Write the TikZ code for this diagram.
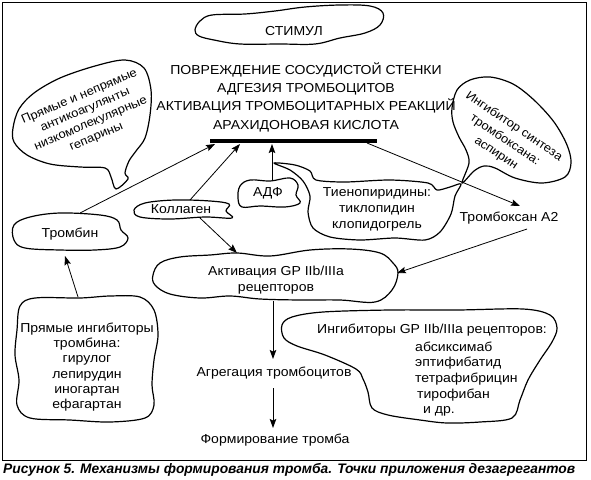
\documentclass[tikz,border=0pt]{standalone}
\usepackage{fontspec}
\setmainfont{Liberation Sans}[FakeStretch=1.08]
\newfontfamily\capfont{Liberation Sans}
\usetikzlibrary{arrows.meta}

\tikzset{
  blob/.style={line width=1.2pt, line join=round},
  arr/.style={line width=0.8pt, -{Stealth[length=9pt,width=6.5pt,inset=1.5pt]}},
  txt/.style={font=\fontsize{13}{15.5}\selectfont, align=center, inner sep=0pt},
}

\begin{document}
\begin{tikzpicture}[x=1pt,y=-1pt]
        \useasboundingbox (0,0) rectangle (591,479);
        % рамка
        \draw[line width=1pt] (2,2) rectangle (586,460);
        % СТИМУЛ
        \draw[blob] plot[smooth cycle, tension=0.6] coordinates {(195,30) (200,21) (212,15) (245,14) (275,11) (305,7) (340,5) (370,6) (383,13) (380,25) (365,33) (340,38) (315,44) (280,44) (240,44) (214,40) (199,36)};
        \node[txt] (stimul) at (294,31) {СТИМУЛ};
        % повреждение стенки
        \node[txt, font=\fontsize{13}{18.3}\selectfont] (injury) at (306,97) {ПОВРЕЖДЕНИЕ СОСУДИСТОЙ СТЕНКИ\\АДГЕЗИЯ ТРОМБОЦИТОВ\\АКТИВАЦИЯ ТРОМБОЦИТАРНЫХ РЕАКЦИЙ\\АРАХИДОНОВАЯ КИСЛОТА};
        \coordinate (barL) at (210,141);
        \coordinate (barR) at (377,141);
        \draw[line width=4.5pt] (barL) -- (barR);
        \coordinate (b1) at (215,144);
        \coordinate (b2) at (240,144);
        \coordinate (b3) at (272,144);
        \coordinate (b4) at (367,143);
        % антикоагулянты
        \draw[blob] plot[smooth cycle, tension=0.55] coordinates {(13,128) (19,109) (34,93) (60,78) (95,66) (125,60) (144,68) (151,90) (150,115) (145,138) (136,151) (129,161) (125,173) (128,179) (116,189) (111,177) (105,168) (80,167) (50,164) (27,155) (14,142)};
        \node[txt, font=\fontsize{12}{14.5}\selectfont, rotate=23] (anticoag) at (88,117) {Прямые и непрямые\\антикоагулянты\\низкомолекулярные\\гепарины};
        % аспирин
        \draw[blob] plot[smooth cycle, tension=0.55] coordinates {(452,108) (457,90) (470,80) (490,77) (513,84) (534,100) (554,122) (567,145) (571,163) (565,177) (542,183) (515,178) (495,168) (484,166) (474,171) (462,183) (469,163) (466,150) (459,137) (453,122)};
        \node[txt, font=\fontsize{12}{16}\selectfont, rotate=-34] (aspirin) at (505,140) {Ингибитор синтеза\\тромбоксана:\\аспирин};
        % Тромбин
        \draw[blob] plot[smooth cycle, tension=0.6] coordinates {(14,225) (30,217) (60,213) (100,215) (117,220) (121,230) (128,238) (120,247) (95,250) (60,250) (25,248) (14,240)};
        \node[txt] (thrombin) at (70,234) {Тромбин};
        % Коллаген
        \draw[blob] plot[smooth cycle, tension=0.6] coordinates {(134,210) (145,203) (175,200) (210,201) (229,204) (226,211) (232,218) (205,217) (170,219) (140,217)};
        \node[txt] (collagen) at (181,209) {Коллаген};
        % АДФ
        \draw[blob] plot[smooth cycle, tension=0.6] coordinates {(240,186) (250,180) (270,181) (290,178) (298,185) (296,195) (300,203) (285,207) (260,206) (242,207) (238,198)};
        \node[txt] (adp) at (268,193) {АДФ};
        % тиенопиридины
        \draw[blob] plot[smooth cycle, tension=0.5] coordinates {(274,163) (295,165) (310,171) (316,180) (345,182) (390,180) (428,183) (437,190) (450,187) (461,184) (455,196) (451,214) (440,232) (425,240) (395,238) (360,240) (330,237) (313,228) (308,212) (310,196) (303,181) (290,170)};
        \node[txt, font=\fontsize{13}{16}\selectfont] (thieno) at (377,209) {Тиенопиридины:\\тиклопидин\\клопидогрель};
        % Тромбоксан A2
        \node[txt] (txa2) at (509,218) {Тромбоксан А2};
        % активация GP IIb/IIIa
        \draw[blob] plot[smooth cycle, tension=0.6] coordinates {(153,275) (160,263) (180,257) (210,255) (237,253) (270,256) (310,250) (350,249) (380,253) (393,263) (398,273) (392,290) (375,302) (340,300) (300,300) (260,299) (230,296) (200,298) (170,294) (155,285)};
        \node[txt, font=\fontsize{13}{16}\selectfont] (gpact) at (276,280) {Активация GP IIb/IIIa\\рецепторов};
        \node[txt] (aggreg) at (274,373) {Агрегация тромбоцитов};
        \node[txt] (thromb) at (275,440) {Формирование тромба};
        % ингибиторы GP IIb/IIIa
        \draw[blob] plot[smooth cycle, tension=0.55] coordinates {(282,325) (292,317) (323,312) (390,310) (457,310) (523,309) (550,315) (557,328) (552,342) (540,360) (528,380) (520,400) (512,418) (480,422) (447,423) (420,420) (388,415) (372,408) (368,392) (363,379) (356,369) (325,355) (297,346) (284,338)};
        \node[txt] (gpinhib) at (432,330) {Ингибиторы GP IIb/IIIa рецепторов:};
        \node[txt, font=\fontsize{13}{15.7}\selectfont, align=left, anchor=west] (gplist) at (415,379) {абсиксимаб\\эптифибатид\\тетрафибрицин\\\hspace*{2pt}тирофибан\\\hspace*{8pt}и др.};
        % прямые ингибиторы тромбина
        \draw[blob] plot[smooth cycle, tension=0.55] coordinates {(20,306) (35,298) (80,298) (110,296) (140,297) (154,310) (158,335) (154,360) (152,385) (154,405) (145,418) (110,422) (70,420) (30,418) (17,405) (19,380) (15,355) (17,330)};
        \node[txt, font=\fontsize{13}{15.3}\selectfont] (dirinhib) at (87,367) {Прямые ингибиторы\\тромбина:\\гирулог\\лепирудин\\иногартан\\ефагартан};
        % стрелки
        \coordinate (thrombinTop) at (80,213);
        \coordinate (thrombinBot) at (65,256);
        \coordinate (collTop) at (190,200);
        \coordinate (collBot) at (200,218);
        \coordinate (adpTop) at (272,180);
        \coordinate (gpTop) at (237,253);
        \coordinate (gpRight) at (397,273);
        \coordinate (gpBot) at (273,301);
        \coordinate (dirTop) at (78,297);
        \coordinate (txTip) at (520,206);
        \coordinate (txBot) at (527,229);
        \coordinate (aggTop) at (273,359);
        \coordinate (aggBot) at (273,388);
        \coordinate (thrTop) at (273,428);
        \draw[arr] (thrombinTop) -- (b1);
        \draw[arr] (collTop) -- (b2);
        \draw[arr] (adpTop) -- (b3);
        \draw[arr] (b4) -- (txTip);
        \draw[arr] (collBot) -- (gpTop);
        \draw[arr] (txBot) -- (gpRight);
        \draw[arr] (dirTop) -- (thrombinBot);
        \draw[arr] (gpBot) -- (aggTop);
        \draw[arr] (aggBot) -- (thrTop);
        % подпись
        \node[txt, font=\capfont\fontsize{13.8}{15}\selectfont\bfseries\itshape, anchor=west] (caption) at (3,470) {Рисунок 5. Механизмы формирования тромба. Точки приложения дезагрегантов};
\end{tikzpicture}
\end{document}
